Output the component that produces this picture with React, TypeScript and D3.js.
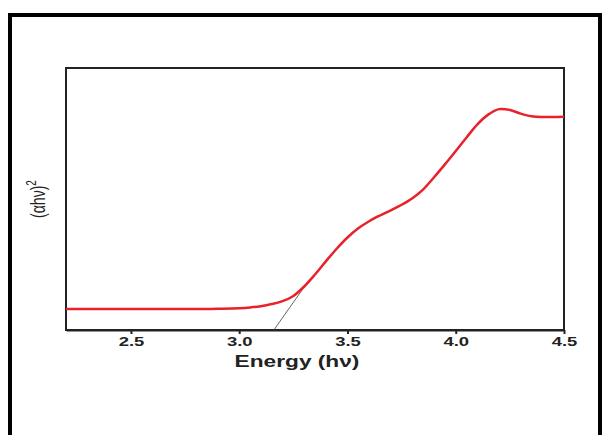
import React, { useRef, useEffect } from "react";
import * as d3 from "d3";

// photon energy (eV) and (alpha h nu)^2 in arbitrary units
const energy = [
  2.2, 2.4, 2.6, 2.8, 2.9, 3.0, 3.05, 3.1, 3.15, 3.2, 3.25, 3.3, 3.35, 3.4,
  3.45, 3.5, 3.55, 3.6, 3.65, 3.7, 3.75, 3.8, 3.85, 3.9, 3.95, 4.0, 4.05, 4.1,
  4.15, 4.2, 4.25, 4.3, 4.35, 4.4, 4.45, 4.5,
];
const absorption = [
  0.08, 0.08, 0.08, 0.08, 0.081, 0.083, 0.086, 0.091, 0.099, 0.11, 0.13,
  0.166, 0.212, 0.262, 0.31, 0.353, 0.388, 0.415, 0.437, 0.457, 0.478, 0.503,
  0.537, 0.583, 0.632, 0.683, 0.735, 0.785, 0.822, 0.843, 0.84, 0.826, 0.816,
  0.813, 0.813, 0.814,
];
// Tauc extrapolation line
const tangentE = [3.16, 3.318];
const tangentV = [0, 0.185];
const xTicks = [2.5, 3.0, 3.5, 4.0, 4.5];

export default function App() {
  const svgRef = useRef<SVGSVGElement>(null);

  useEffect(() => {
    const svg = d3.select(svgRef.current);
    svg.selectAll("*").remove();
    const left = 66,
      right = 564,
      top = 68,
      bottom = 330;
    const stretch = 1.42; // the source image is squashed wider than tall

    const x = d3.scaleLinear().domain([2.2, 4.5]).range([left, right]);
    const y = d3.scaleLinear().domain([0, 1]).range([bottom, top]);

    // outer frame
    svg.append("rect")
      .attr("x", 10)
      .attr("y", 15)
      .attr("width", 590)
      .attr("height", 440)
      .attr("fill", "none")
      .attr("stroke", "#000")
      .attr("stroke-width", 4);

    // plot box
    svg.append("rect")
      .attr("x", left)
      .attr("y", top)
      .attr("width", right - left)
      .attr("height", bottom - top)
      .attr("fill", "none")
      .attr("stroke", "#222")
      .attr("stroke-width", 2);

    const line = d3
      .line<{ e: number; v: number }>()
      .x((d) => x(d.e))
      .y((d) => y(d.v));

    svg.append("path")
      .datum(tangentE.map((e, i) => ({ e, v: tangentV[i] })))
      .attr("fill", "none")
      .attr("stroke", "#666")
      .attr("stroke-width", 1)
      .attr("d", line);

    svg.append("path")
      .datum(energy.map((e, i) => ({ e, v: absorption[i] })))
      .attr("fill", "none")
      .attr("stroke", "#e8212a")
      .attr("stroke-width", 2.5)
      .attr("d", line.curve(d3.curveCatmullRom.alpha(0.5)));

    const ax = svg.append("g")
      .attr("transform", `translate(0,${bottom})`)
      .call(d3.axisBottom(x).tickValues(xTicks).tickFormat(d3.format(".1f")).tickSize(4).tickSizeOuter(0));
    ax.select(".domain").attr("stroke", "#222").attr("stroke-width", 2);
    ax.selectAll(".tick line").attr("stroke", "#222").attr("stroke-width", 2);
    ax.selectAll(".tick text")
      .attr("font-family", "Liberation Sans, Arial, sans-serif")
      .attr("font-weight", "bold")
      .attr("font-size", 13)
      .attr("fill", "#222")
      .attr("y", 7)
      .attr("transform", `scale(${stretch},1)`);

    svg.append("text")
      .attr("transform", `translate(297,367) scale(${stretch},1)`)
      .attr("text-anchor", "middle")
      .attr("font-family", "Liberation Sans, Arial, sans-serif")
      .attr("font-weight", "bold")
      .attr("font-size", 16)
      .attr("fill", "#222")
      .text("Energy (h\u03bd)");

    const yl = svg.append("text")
      .attr("transform", `translate(45,${(top + bottom) / 2}) scale(${stretch},1) rotate(-90)`)
      .attr("text-anchor", "middle")
      .attr("font-family", "Liberation Sans, Arial, sans-serif")
      .attr("font-size", 14)
      .attr("fill", "#222");
    yl.append("tspan").text("(\u03b1h\u03bd)");
    yl.append("tspan").attr("font-size", 10).attr("dy", -6).text("2");
  }, []);

  return (
    <svg
      ref={svgRef}
      width={602}
      height={435}
      style={{ position: "fixed", left: 0, top: 0, background: "#fff" }}
    ></svg>
  );
}
